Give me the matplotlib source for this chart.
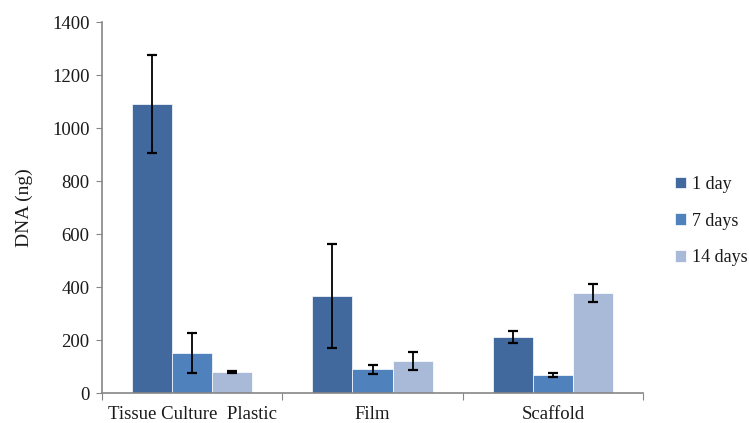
import matplotlib
matplotlib.use("Agg")
import matplotlib.pyplot as plt
import numpy as np

categories = ["Tissue Culture  Plastic", "Film", "Scaffold"]
series = ["1 day", "7 days", "14 days"]
values = {
    "1 day": [1090, 366, 211],
    "7 days": [150, 90, 68],
    "14 days": [79, 120, 378],
}
errors = {
    "1 day": [185, 196, 24],
    "7 days": [75, 17, 8],
    "14 days": [3, 34, 34],
}
colors = ["#41699E", "#4F81BD", "#A9BAD8"]

plt.rcParams['font.family'] = ['Liberation Serif', 'DejaVu Serif']
txt = "#1a1a1a"

fig = plt.figure(figsize=(7.49, 4.23), dpi=100)
ax = fig.add_axes([102/749, 1-393/423, (643-102)/749, (393-22)/423])

x = np.arange(len(categories)) + 0.5
w = 0.222
for i, s in enumerate(series):
    ax.bar(x + (i - 1) * w, values[s], width=w, color=colors[i], label=s,
           edgecolor="white", linewidth=0.5, zorder=2)
    ax.errorbar(x + (i - 1) * w, values[s], yerr=errors[s], fmt="none",
                ecolor="black", elinewidth=1.3, capsize=3.5, capthick=1.6, zorder=3)

ax.set_xlim(0, 3)
ax.set_ylim(0, 1400)
ax.set_yticks(np.arange(0, 1401, 200))
ax.set_xticks([0, 1, 2, 3])
ax.set_xticklabels([])
ax.set_xticks(x, minor=True)
ax.set_xticklabels(categories, minor=True)
ax.tick_params(axis="x", which="minor", length=0, labelsize=13.5, pad=9, labelcolor=txt)
ax.tick_params(axis="x", which="major", length=5, direction="out", color="#868686")
ax.tick_params(axis="y", length=4, direction="out", color="#868686", labelsize=13.5,
               labelcolor=txt, pad=5)

for sp in ["top", "right"]:
    ax.spines[sp].set_visible(False)
for sp in ["left", "bottom"]:
    ax.spines[sp].set_color("#868686")
    ax.spines[sp].set_linewidth(1.2)

ax.set_ylabel("DNA (ng)", fontsize=14, labelpad=14, color=txt)

handles, labels = ax.get_legend_handles_labels()
leg = fig.legend(handles, labels, loc="center left", bbox_to_anchor=(675/749, 1-221/423),
                 frameon=False, fontsize=13, handlelength=0.6, handleheight=0.6,
                 handletextpad=0.35, labelspacing=1.1, borderaxespad=0, borderpad=0)
for t in leg.get_texts():
    t.set_color(txt)

fig.savefig("out.png", dpi=100)
